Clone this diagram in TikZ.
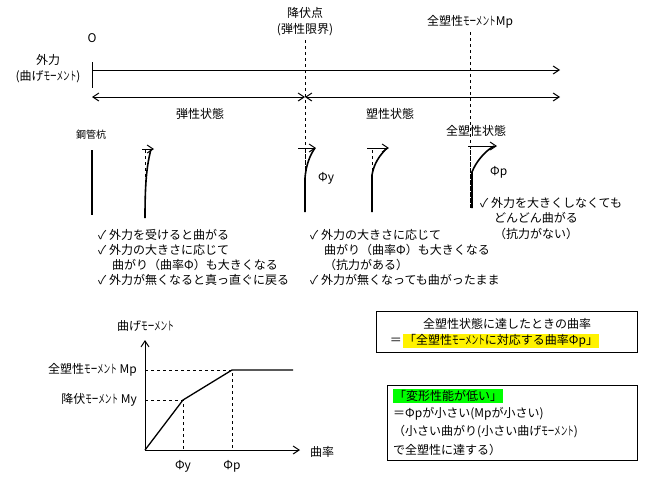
\documentclass[tikz,border=0pt]{standalone}
\usepackage{fontspec}
\usepackage{graphicx}
\setmainfont{Noto Sans CJK JP}
\usetikzlibrary{arrows.meta}
\newcommand{\momx}{\scalebox{0.55}[1]{モーメント}}
\begin{document}
\begin{tikzpicture}[x=1pt,y=-1pt,
  txt/.style={font=\fontsize{12}{14}\selectfont,inner sep=0pt},
  lft/.style={txt,anchor=west},
  ln/.style={line width=1pt},
  dsh/.style={dashed,line width=0.7pt},
  arr/.style={ln,-{Straight Barb[length=6pt,width=8pt]}},
  pile/.style={line width=1.6pt}]
\useasboundingbox (0,0) rectangle (650,480);
% top axis
\node[txt] (O) at (92,38) {O};
\node[txt] (gai) at (48,60) {外力};
\node[txt] (gaim) at (48,77) {(曲げ\momx)};
\coordinate (a0) at (92,70); \coordinate (a1) at (560,70);
\draw[ln] (92,62) -- (92,88);
\draw[arr] (a0) -- (a1);
\node[txt] (kf) at (305,13) {降伏点};
\node[txt] (kf2) at (305,30) {(弾性限界)};
\node[txt] (mp) at (470,22) {全塑性\momx Mp};
\draw[dsh] (305,40) -- (305,212);
\draw[dsh] (470,32) -- (470,208);
\coordinate (b0) at (92,97); \coordinate (b1) at (305,97); \coordinate (b2) at (560,97);
\draw[ln,{Straight Barb[length=6pt,width=8pt]}-{Straight Barb[length=6pt,width=8pt]}] (b0) -- (b1);
\draw[ln,{Straight Barb[length=6pt,width=8pt]}-{Straight Barb[length=6pt,width=8pt]}] (b1) -- (b2);
\node[txt] (dan) at (200,114) {弾性状態};
\node[txt] (so) at (390,114) {塑性状態};
\node[txt] (zen) at (476,131) {全塑性状態};
\node[txt,font=\fontsize{10}{12}\selectfont] (kk) at (91,135) {鋼管杭};
\draw[pile] (92,150) -- (92,215);
% pile 1
\draw[dsh] (145,150) -- (145,218);
\draw[pile] (145,218) .. controls (145,180) and (147,165) .. (151,149);
\draw[arr] (142,149) -- (154,149);
% pile 2
\draw[dsh] (305,150) -- (305,212);
\draw[pile] (305,212) -- (305,178) .. controls (306,165) and (310,155) .. (315,148);
\draw[arr] (298,148) -- (316,148);
\node[lft] (py) at (318,178) {Φy};
% pile 3
\draw[dsh] (372,150) -- (372,212);
\draw[pile] (372,212) -- (372,175) .. controls (374,163) and (380,155) .. (387,148);
\draw[arr] (367,148) -- (389,148);
% pile 4
\draw[dsh] (470,150) -- (470,208);
\draw[pile] (472,208) -- (472,172) .. controls (476,162) and (484,152) .. (494,146);
\draw[arr] (468,146) -- (497,146);
\node[lft] (pp) at (490,172) {Φp};
% lists
\node[lft] (l1) at (98,235) {✓ 外力を受けると曲がる};
\node[lft] (l2) at (98,250) {✓ 外力の大きさに応じて};
\node[lft] (l3) at (112,265) {曲がり（曲率Φ）も大きくなる};
\node[lft] (l4) at (98,280) {✓ 外力が無くなると真っ直ぐに戻る};
\node[lft] (m1) at (310,235) {✓ 外力の大きさに応じて};
\node[lft] (m2) at (324,250) {曲がり（曲率Φ）も大きくなる};
\node[lft] (m3) at (324,265) {（抗力がある）};
\node[lft] (m4) at (310,280) {✓ 外力が無くなっても曲がったまま};
\node[lft] (r1) at (480,203) {✓ 外力を大きくしなくても};
\node[lft] (r2) at (494,218) {どんどん曲がる};
\node[lft] (r3) at (494,234) {（抗力がない）};
% graph
\coordinate (o) at (145,450);
\draw[arr] (o) -- (145,340);
\draw[arr] (o) -- (300,450);
\node[lft] (ym) at (117,326) {曲げ\momx};
\node[lft] (xk) at (310,452) {曲率};
\draw[line width=1.3pt] (o) -- (183,400) -- (232,370) -- (293,370);
\draw[dsh] (145,400) -- (183,400) -- (183,450);
\draw[dsh] (145,370) -- (232,370) -- (232,450);
\node[txt,anchor=east] (lmp) at (137,370) {全塑性\momx\ Mp};
\node[txt,anchor=east] (lmy) at (137,400) {降伏\momx\ My};
\node[txt] (fy) at (183,466) {Φy};
\node[txt] (fp) at (232,466) {Φp};
% boxes
\draw[line width=0.7pt] (376,311) rectangle (637,352);
\node[txt] (b1a) at (507,324) {全塑性状態に達したときの曲率};
\node[txt,anchor=east] (eq) at (402,341) {＝};
\node[lft,fill=yellow,inner sep=1pt] (b1b) at (403,341) {「全塑性\momx に対応する曲率Φp」};
\draw[line width=0.7pt] (387,385) rectangle (637,460);
\node[lft,fill=green,inner sep=1pt] (g1) at (393,396) {「変形性能が低い」};
\node[lft] (g2) at (393,414) {＝Φpが小さい(Mpが小さい)};
\node[lft] (g3) at (393,432) {（小さい曲がり(小さい曲げ\momx)};
\node[lft] (g4) at (393,450) {で全塑性に達する）};
\end{tikzpicture}
\end{document}
